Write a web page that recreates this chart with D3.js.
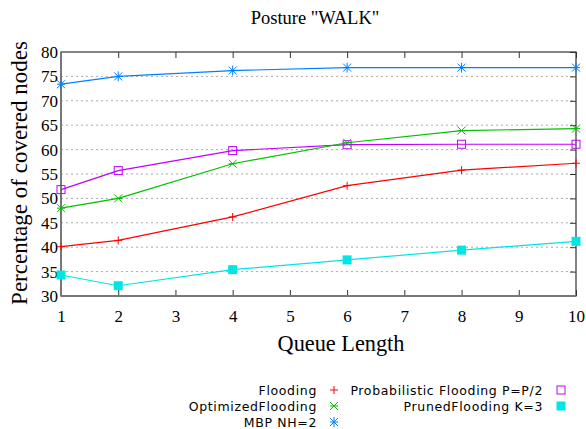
<!DOCTYPE html>
<html><head><meta charset="utf-8">
<script src="https://cdn.jsdelivr.net/npm/d3@7"></script>
<style>body{margin:0;background:#fff}svg{display:block}</style>
</head><body>
<svg id="c" width="586" height="429"></svg>
<script>
const queueLength = [1, 2, 4, 6, 8, 10];
const flooding = [40.1, 41.4, 46.2, 52.6, 55.8, 57.2];
const probabilistic = [51.8, 55.7, 59.8, 61.0, 61.1, 61.1];
const optimized = [48.0, 50.0, 57.1, 61.4, 63.9, 64.3];
const pruned = [34.3, 32.1, 35.4, 37.4, 39.4, 41.2];
const mbp = [73.4, 75.0, 76.2, 76.8, 76.8, 76.8];
const xTicks = [1,2,3,4,5,6,7,8,9,10];
const yTicks = [30,35,40,45,50,55,60,65,70,75,80];
const seriesNames = ["Flooding","Probabilistic Flooding P=P/2","OptimizedFlooding","PrunedFlooding K=3","MBP NH=2"];

const series = [
  {name: seriesNames[0], values: flooding, color: "#ff0000", marker: "plus"},
  {name: seriesNames[1], values: probabilistic, color: "#c000ff", marker: "square"},
  {name: seriesNames[2], values: optimized, color: "#00c000", marker: "xbar"},
  {name: seriesNames[3], values: pruned, color: "#00e5e5", marker: "fsquare"},
  {name: seriesNames[4], values: mbp, color: "#0080ff", marker: "star"}
];

const svg = d3.select("#c");
const L = 61, R = 576, T = 52, B = 296;
const x = d3.scaleLinear().domain([1,10]).range([L,R]);
const y = d3.scaleLinear().domain([30,80]).range([B,T]);

// grid
svg.append("g").selectAll("line").data(yTicks.slice(1,-1)).join("line")
  .attr("x1", L).attr("x2", R).attr("y1", d=>y(d)).attr("y2", d=>y(d))
  .attr("stroke", "#aaa").attr("stroke-width", 1).attr("stroke-dasharray", "2,3");

// axes
const serif = "'Liberation Serif', 'Times New Roman', serif";
const gx = svg.append("g").attr("transform", `translate(0,${B})`)
  .call(d3.axisBottom(x).tickValues(xTicks).tickSize(-6).tickPadding(14).tickFormat(d3.format("d")));
const gxt = svg.append("g").attr("transform", `translate(0,${T})`)
  .call(d3.axisTop(x).tickValues(xTicks).tickSize(-6).tickFormat(""));
const gy = svg.append("g").attr("transform", `translate(${L},0)`)
  .call(d3.axisLeft(y).tickValues(yTicks).tickSize(-6).tickPadding(3).tickFormat(d3.format("d")));
const gyr = svg.append("g").attr("transform", `translate(${R},0)`)
  .call(d3.axisRight(y).tickValues(yTicks).tickSize(-6).tickFormat(""));
[gx,gxt,gy,gyr].forEach(g=>{
  g.select(".domain").remove();
  g.selectAll(".tick line").attr("stroke","#333");
  g.selectAll("text").attr("font-family", serif).attr("font-size", 17).attr("fill","#000");
});
gy.selectAll(".tick line").remove();
// frame
svg.append("rect").attr("x", L).attr("y", T).attr("width", R-L).attr("height", B-T)
  .attr("fill","none").attr("stroke","#333").attr("stroke-width",1.2);
svg.append("line").attr("x1",L).attr("x2",L).attr("y1",T).attr("y2",B).attr("stroke","#777").attr("stroke-width",2);
svg.append("line").attr("x1",L).attr("x2",R).attr("y1",B).attr("y2",B).attr("stroke","#777").attr("stroke-width",2);

// titles
svg.append("text").attr("x", 315).attr("y", 24).attr("text-anchor","middle")
  .attr("font-family", serif).attr("font-size", 18.5).text('Posture "WALK"');
svg.append("text").attr("x", 341).attr("y", 351).attr("text-anchor","middle")
  .attr("font-family", serif).attr("font-size", 22.3).text("Queue Length");
svg.append("text").attr("transform", "translate(27,173) rotate(-90)").attr("text-anchor","middle")
  .attr("font-family", serif).attr("font-size", 23).text("Percentage of covered nodes");

function drawMarker(g, type, color, cx, cy) {
  const s = 4;
  if (type === "plus") {
    g.append("path").attr("d", `M${cx-s},${cy}H${cx+s}M${cx},${cy-s}V${cy+s}`).attr("stroke", color).attr("fill","none");
  } else if (type === "square") {
    g.append("rect").attr("x", cx-s).attr("y", cy-s).attr("width", 2*s).attr("height", 2*s).attr("fill","none").attr("stroke", color);
  } else if (type === "fsquare") {
    g.append("rect").attr("x", cx-s-0.5).attr("y", cy-s-0.5).attr("width", 2*s+1).attr("height", 2*s+1).attr("fill", color);
  } else if (type === "xbar") {
    g.append("path").attr("d", `M${cx-s},${cy-s}L${cx+s},${cy+s}M${cx-s},${cy+s}L${cx+s},${cy-s}M${cx-s},${cy}H${cx+s}`).attr("stroke", color).attr("fill","none");
  } else if (type === "star") {
    g.append("path").attr("d", `M${cx-s},${cy-s}L${cx+s},${cy+s}M${cx-s},${cy+s}L${cx+s},${cy-s}M${cx},${cy-s-1}V${cy+s+1}M${cx-s},${cy}H${cx+s}`).attr("stroke", color).attr("fill","none");
  }
}

const line = d3.line().x((d,i)=>x(queueLength[i])).y(d=>y(d));
series.forEach(s => {
  const g = svg.append("g");
  g.append("path").attr("d", line(s.values)).attr("fill","none").attr("stroke", s.color).attr("stroke-width", 1.2);
  s.values.forEach((v,i)=>drawMarker(g, s.marker, s.color, x(queueLength[i]), y(v)));
});

// legend
const sans = "'DejaVu Sans', sans-serif";
const legPos = [
  {tx: 317, mx: 334, y: 390},
  {tx: 543, mx: 561, y: 390},
  {tx: 317, mx: 334, y: 406},
  {tx: 543, mx: 561, y: 406},
  {tx: 317, mx: 334, y: 422}
];
series.forEach((s,i) => {
  const p = legPos[i];
  const g = svg.append("g");
  g.append("text").attr("x", p.tx).attr("y", p.y+4.5).attr("text-anchor","end")
    .attr("font-family", sans).attr("font-size", 12.5).attr("letter-spacing", 0.65).attr("fill","#000").text(s.name);
  drawMarker(g, s.marker, s.color, p.mx, p.y);
});
</script>
</body></html>
